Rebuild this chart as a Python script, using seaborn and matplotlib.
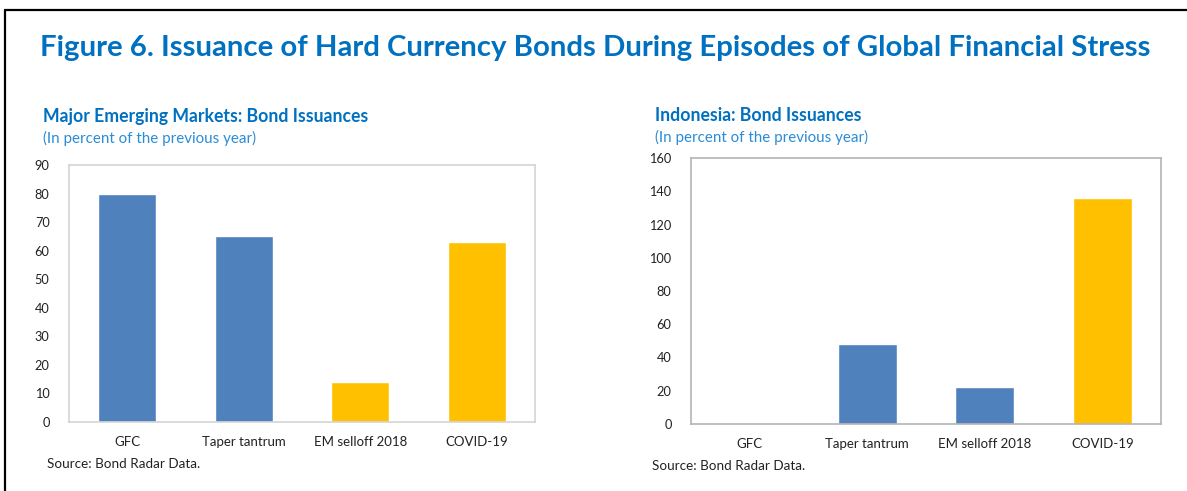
import matplotlib
matplotlib.use("Agg")
import matplotlib.pyplot as plt
from matplotlib.lines import Line2D
import seaborn as sns

episodes = ["GFC", "Taper tantrum", "EM selloff 2018", "COVID-19"]
em_values = [80, 65, 14, 63]
idn_values = [0, 48, 22, 136]
em_colors = ["#4F81BD", "#4F81BD", "#FFC000", "#FFC000"]
idn_colors = ["#4F81BD", "#4F81BD", "#4F81BD", "#FFC000"]
em_ticks = list(range(0, 91, 10))
idn_ticks = list(range(0, 161, 20))

sns.set_theme(style="white")
plt.rcParams["font.family"] = ["Lato", "DejaVu Sans"]

W, H = 1187, 491
fig = plt.figure(figsize=(W / 100, H / 100), dpi=100)

def box(x0, y_top, x1, y_bot):
    return [x0 / W, 1 - y_bot / H, (x1 - x0) / W, (y_bot - y_top) / H]

# frame lines along top and left edges
fig.add_artist(Line2D([5 / W, 1], [1 - 10 / H, 1 - 10 / H], color="black", lw=1.6, transform=fig.transFigure))
fig.add_artist(Line2D([5 / W, 5 / W], [0, 1 - 10 / H], color="black", lw=1.6, transform=fig.transFigure))

fig.text(40 / W, 1 - 48 / H, "Figure 6. Issuance of Hard Currency Bonds During Episodes of Global Financial Stress",
         color="#0070C0", fontsize=21.2, fontweight="bold", va="center", ha="left")

def panel(rect, values, colors, ticks, spine_color, title, tx, ty, src_x, src_y):
    ax = fig.add_axes(rect)
    sns.barplot(x=episodes, y=values, hue=episodes, palette=colors, legend=False,
                width=0.5, saturation=1, ax=ax)
    ax.set_xlim(-0.5, 3.5)
    ax.set_ylim(ticks[0], ticks[-1])
    ax.set_yticks(ticks)
    ax.set_xlabel("")
    ax.set_ylabel("")
    ax.tick_params(axis="both", length=0, colors="#222222")
    ax.tick_params(axis="x", pad=10, labelsize=9.5)
    ax.tick_params(axis="y", pad=14, labelsize=9.2)
    for s in ax.spines.values():
        s.set_visible(True)
        s.set_color(spine_color)
        s.set_linewidth(1.2)
    fig.text(tx / W, 1 - ty / H, title, color="#0070C0", fontsize=12.7, fontweight="bold", va="center")
    fig.text(tx / W, 1 - (ty + 22) / H, "(In percent of the previous year)", color="#2B8CD6",
             fontsize=10.9, va="center")
    fig.text(src_x / W, 1 - src_y / H, "Source: Bond Radar Data.", color="#222222", fontsize=9.7, va="center")
    return ax

panel(box(69, 165, 535, 422), em_values, em_colors, em_ticks, "#D4D4D4",
      "Major Emerging Markets: Bond Issuances", 43, 116.5, 47, 464)
panel(box(691, 158, 1161, 424), idn_values, idn_colors, idn_ticks, "#B4B4B4",
      "Indonesia: Bond Issuances", 655, 115.5, 652.5, 466.5)

fig.savefig("out.png", dpi=100)
